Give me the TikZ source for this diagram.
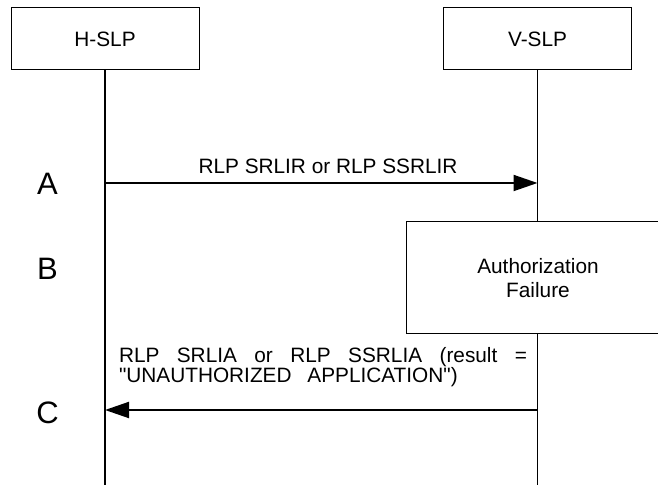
\documentclass[tikz,border=0pt]{standalone}
\usepackage{fontspec}
\setmainfont{Liberation Sans}[Ligatures=TeXOff]
\usetikzlibrary{arrows.meta,positioning}
\newcommand{\sigfont}{\fontsize{10.4}{12}\selectfont}
\tikzset{
  entity/.style={rectangle, draw=black, line width=0.5pt, fill=white, minimum width=94pt, minimum height=31pt, inner sep=0pt, font=\sigfont},
  procbox/.style={rectangle, draw=black, line width=0.5pt, fill=white, align=center, minimum width=132pt, minimum height=56pt, inner sep=0pt, font=\sigfont},
  lifeline/.style={draw=black, line width=0.9pt},
  msg/.style={-{Triangle[length=12pt,width=8pt]}, draw=black, line width=1pt},
  msglabel/.style={inner sep=0pt, font=\sigfont},
  steplabel/.style={inner sep=0pt, font=\fontsize{15.5}{18}\selectfont}
}
\begin{document}
\begin{tikzpicture}[x=0.5pt,y=-0.5pt]
\useasboundingbox (0,0) rectangle (658,485);
% entities and lifelines
\node[entity] (hslp) at (105,39) {H-SLP};
\node[entity] (vslp) at (537.5,39) {V-SLP};
\coordinate (hend) at (105,485);
\coordinate (vend) at (537.5,485);
\draw[lifeline] (hslp.south) -- (hend);
\draw[lifeline] (vslp.south) -- (vend);
% step A
\coordinate (hA) at (105,183);
\coordinate (vA) at (537.5,183);
\draw[msg] (hA) -- (vA);
\node[msglabel] (labA) at (328,166) {RLP SRLIR or RLP SSRLIR};
\node[steplabel] (stA) at (47.5,184) {A};
% step B
\node[procbox] (authfail) at (538,278) {Authorization\\Failure};
\node[steplabel] (stB) at (47.5,268.5) {B};
% step C
\coordinate (vC) at (537.5,410);
\coordinate (hC) at (105,410);
\draw[msg] (vC) -- (hC);
\node[msglabel, text width=204pt, align=justify, font=\fontsize{10.4}{10}\selectfont] (labC) at (323,367)
  {RLP SRLIA or RLP SSRLIA (result =\linebreak "UNAUTHORIZED\hspace{5pt} APPLICATION")};
\node[steplabel] (stC) at (47.5,413) {C};
\end{tikzpicture}
\end{document}
